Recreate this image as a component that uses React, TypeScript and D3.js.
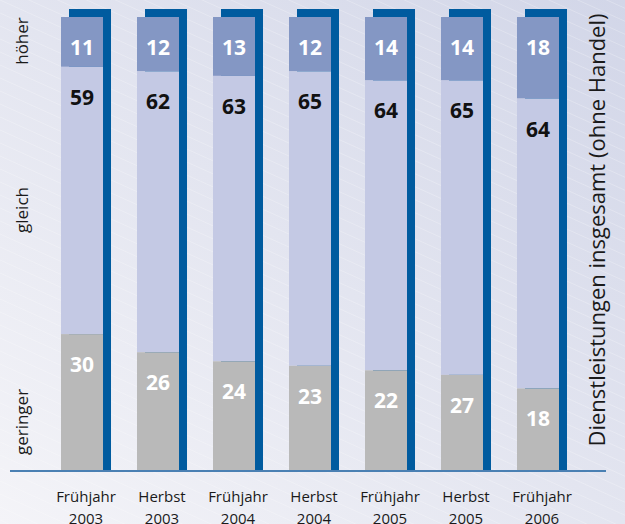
import React from 'react';
import * as d3 from 'd3';

// Umfrage: Erwartung Dienstleistungen insgesamt (ohne Handel), Anteile in %
const periods = ['Frühjahr', 'Herbst', 'Frühjahr', 'Herbst', 'Frühjahr', 'Herbst', 'Frühjahr'];
const years = ['2003', '2003', '2004', '2004', '2005', '2005', '2006'];
const hoeher = [11, 12, 13, 12, 14, 14, 18];
const gleich = [59, 62, 63, 65, 64, 65, 64];
const geringer = [30, 26, 24, 23, 22, 27, 18];
const sideLabels = ['höher', 'gleich', 'geringer'];
const title = 'Dienstleistungen insgesamt (ohne Handel)';

const W = 625;
const H = 524;
const font = "'Open Sans', sans-serif";

export default function App() {
  const cats = periods.map((p, i) => `${p} ${years[i]}`);

  const x = d3.scaleBand<string>()
    .domain(cats)
    .range([61, 567])
    .paddingInner(0.342)
    .paddingOuter(0);

  const y = d3.scaleLinear().domain([100, 0]).range([17, 470]);

  const shift = 8;
  const front = x.bandwidth() - shift;

  // Streifen im Hintergrund
  const stripes = d3.range(-40, 60).map(i => i * 13);

  return (
    <svg width={W} height={H} style={{ position: 'absolute', left: 0, top: 0 }}>
      <defs>
        <linearGradient id="bg" x1="1" y1="0" x2="0" y2="1">
          <stop offset="0" stopColor="#d2d6e8" />
          <stop offset="1" stopColor="#f4f4f8" />
        </linearGradient>
      </defs>
      <rect width={W} height={H} fill="url(#bg)" />
      <g stroke="#ffffff" strokeOpacity={0.3} strokeWidth={0.8}>
        {stripes.map(s => (
          <line key={s} x1={0} y1={s} x2={W} y2={s + W * 0.45} />
        ))}
      </g>

      {cats.map((c, i) => {
        const x0 = x(c)!;
        const yTop = y(100);
        const yA = y(100 - hoeher[i]);
        const yB = y(100 - hoeher[i] - gleich[i]);
        const yBase = y(0);
        const cx = x0 + front / 2;
        return (
          <g key={c}>
            <rect x={x0 + shift} y={yTop - shift} width={front} height={yBase - yTop + shift} fill="#005b9f" />
            <rect x={x0} y={yTop} width={front} height={yA - yTop} fill="#8497c4" />
            <rect x={x0} y={yA} width={front} height={yB - yA} fill="#c4c9e4" />
            <rect x={x0} y={yB} width={front} height={yBase - yB} fill="#b9b9b9" />
            <g fontFamily={font} fontWeight="bold" fontSize={21} textAnchor="middle" dominantBaseline="central">
              <text x={cx} y={yTop + 30} fill="#ffffff">{hoeher[i]}</text>
              <text x={cx} y={yA + 30} fill="#111111">{gleich[i]}</text>
              <text x={cx} y={yB + 30} fill="#ffffff">{geringer[i]}</text>
            </g>
            <g fontFamily={font} fontSize={15} textAnchor="middle" fill="#1a1a1a">
              <text x={x0 + x.bandwidth() / 2} y={502}>{periods[i]}</text>
              <text x={x0 + x.bandwidth() / 2} y={524}>{years[i]}</text>
            </g>
          </g>
        );
      })}

      <line x1={10} x2={606} y1={471} y2={471} stroke="#4a80b3" strokeWidth={2} />

      <g fontFamily={font} fontSize={17} fill="#1a1a1a" textAnchor="middle">
        {[41, 210, 422].map((cy, i) => (
          <text key={sideLabels[i]} transform={`translate(28,${cy}) rotate(-90)`}>{sideLabels[i]}</text>
        ))}
      </g>
      <text transform="translate(605,230) rotate(-90)" fontFamily={font} fontSize={22}
        textAnchor="middle" fill="#1a1a1a">{title}</text>
    </svg>
  );
}
